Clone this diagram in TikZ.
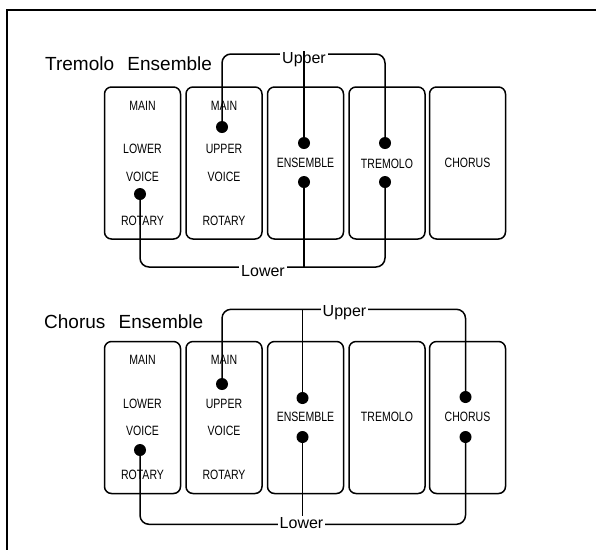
\documentclass[tikz,border=0pt]{standalone}
\usepackage{fontspec}
\setmainfont{Liberation Sans}
\newfontfamily\narrowfont[FakeStretch=0.78]{Liberation Sans}
\usetikzlibrary{positioning}

\begin{document}
\begin{tikzpicture}[x=1pt, y=-1pt,
	tab/.style={draw, line width=1.5pt, rounded corners=7pt, minimum width=76pt, minimum height=152pt},
	caption/.style={font=\narrowfont\fontsize{13.5}{15}\selectfont, inner sep=0pt},
	jack/.style={circle, fill, inner sep=0pt, minimum size=12pt},
	wire/.style={line width=1.5pt, rounded corners=9pt},
	busname/.style={font=\fontsize{16}{18}\selectfont, fill=white, anchor=base, inner xsep=2pt, inner ysep=1pt},
	heading/.style={font=\fontsize{19}{22}\selectfont, anchor=west, inner sep=0pt}]
	\useasboundingbox (0,0) rectangle (596,550);
	\draw[line width=1.8pt] (596,10) -- (7,10) -- (7,550);

	% tremolo ensemble
	\node[heading] (head1) at (45,64) {Tremolo\hspace{0.7em}Ensemble};
	\foreach \x [count=\i] in {142.5,224,305.5,387,467.5}
		\node[tab] (a\i) at (\x,163) {};
	\node[caption] at (142.5,106) {MAIN};
	\node[caption] at (142.5,149) {LOWER};
	\node[caption] at (142.5,177) {VOICE};
	\node[caption] at (142.5,221) {ROTARY};
	\node[caption] at (224,106) {MAIN};
	\node[caption] at (224,149) {UPPER};
	\node[caption] at (224,177) {VOICE};
	\node[caption] at (224,221) {ROTARY};
	\node[caption] at (305.5,163) {ENSEMBLE};
	\node[caption] at (387,164) {TREMOLO};
	\node[caption] at (467.5,163) {CHORUS};
	\node[jack] (a1voice) at (140,194) {};
	\node[jack] (a2main) at (222,127) {};
	\node[jack] (a3up) at (304,143) {};
	\node[jack] (a3low) at (304,182) {};
	\node[jack] (a4up) at (385,143) {};
	\node[jack] (a4low) at (385,182) {};
	\coordinate (up1) at (304,54);
	\coordinate (low1) at (263,267);
	\draw[wire] (a2main.center) |- (up1) -| (a4up.center);
	\draw[wire] (a1voice.center) |- (low1) -| (a4low.center);
	\draw[wire] (a3low.center) -- (a3low |- low1);
	\node[busname] (upname1) at (304,63.3) {Upper};
	\node[busname] (lowname1) at (263,276.7) {Lower};
	\draw[wire] (a3up.center) -- (a3up |- upname1.north);

	% chorus ensemble
	\node[heading] (head2) at (44,322) {Chorus\hspace{0.7em}Ensemble};
	\foreach \x [count=\i] in {142.5,224,305.5,387,467.5}
		\node[tab] (b\i) at (\x,417.5) {};
	\node[caption] at (142.5,360) {MAIN};
	\node[caption] at (142.5,404) {LOWER};
	\node[caption] at (142.5,431) {VOICE};
	\node[caption] at (142.5,475) {ROTARY};
	\node[caption] at (224,360) {MAIN};
	\node[caption] at (224,404) {UPPER};
	\node[caption] at (224,431) {VOICE};
	\node[caption] at (224,475) {ROTARY};
	\node[caption] at (305.5,417) {ENSEMBLE};
	\node[caption] at (387,417) {TREMOLO};
	\node[caption] at (467.5,417) {CHORUS};
	\node[jack] (b1voice) at (140,450) {};
	\node[jack] (b2main) at (222,384) {};
	\node[jack] (b3up) at (302.5,398) {};
	\node[jack] (b3low) at (302.5,437) {};
	\node[jack] (b5up) at (465.5,397) {};
	\node[jack] (b5low) at (465.5,437) {};
	\coordinate (up2) at (344.5,309.3);
	\coordinate (low2) at (301.5,524.3);
	\draw[wire] (b2main.center) |- (up2) -| (b5up.center);
	\draw[wire] (b3up.center) -- (b3up |- up2);
	\draw[wire] (b1voice.center) |- (low2) -| (b5low.center);
	\node[busname] (upname2) at (344.5,316.7) {Upper};
	\node[busname] (lowname2) at (301.5,528) {Lower};
	\draw[wire] (b3low.center) -- (b3low |- lowname2.north);
\end{tikzpicture}
\end{document}
